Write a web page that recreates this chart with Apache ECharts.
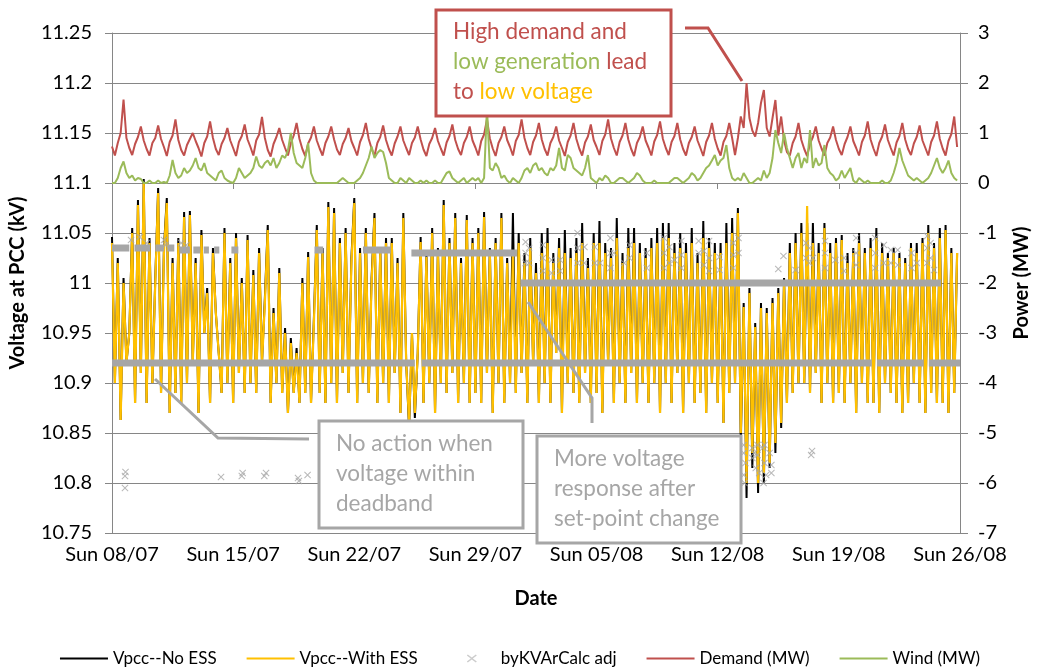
<!DOCTYPE html>
<html>
<head>
<meta charset="utf-8">
<title>Voltage at PCC</title>
<script src="https://cdn.jsdelivr.net/npm/echarts@6/dist/echarts.min.js"></script>
<style>
  html, body { margin: 0; padding: 0; background: #fff; }
  #main { width: 1040px; height: 670px; }
</style>
</head>
<body>
<div id="main"></div>
<script>
// x axis: days since Sun 08/07, 6 samples per day (every 4 h)
var pointsPerDay = 6;
var weekLabels = ['Sun 08/07', 'Sun 15/07', 'Sun 22/07', 'Sun 29/07', 'Sun 05/08', 'Sun 12/08', 'Sun 19/08', 'Sun 26/08'];

// Vpcc with ESS (kV), one row per day
var vWithEss = [
  11.040, 10.900, 11.020, 10.863, 11.000, 10.920,
  10.950, 11.050, 10.880, 11.078, 10.910, 11.100,
  10.880, 11.040, 10.900, 11.000, 11.090, 10.890,
  11.030, 11.080, 10.870, 11.020, 10.890, 11.040,
  10.880, 11.066, 10.900, 11.068, 10.920, 11.020,
  10.870, 11.048, 10.950, 10.990, 10.880, 11.030,
  10.970, 10.930, 10.890, 11.050, 10.900, 11.020,
  10.880, 11.045, 10.910, 11.000, 10.890, 11.043,
  10.900, 11.008, 10.890, 11.030, 10.920, 10.980,
  11.053, 10.880, 10.970, 10.900, 11.010, 10.890,
  10.950, 10.870, 10.940, 10.890, 10.930, 10.880,
  11.000, 10.890, 11.026, 10.880, 10.960, 11.053,
  10.890, 11.030, 10.880, 11.076, 10.900, 11.070,
  10.880, 11.040, 10.910, 11.050, 10.890, 11.020,
  11.080, 10.880, 11.030, 10.900, 11.050, 10.890,
  11.000, 11.065, 10.880, 11.030, 10.900, 11.040,
  10.880, 11.040, 10.910, 11.020, 10.870, 11.065,
  10.920, 10.860, 10.950, 10.870, 10.930, 11.041,
  10.880, 11.026, 10.900, 11.050, 10.870, 11.030,
  10.900, 11.078, 10.890, 11.040, 10.910, 11.065,
  10.880, 11.020, 10.900, 11.063, 10.880, 11.040,
  10.890, 11.050, 10.880, 11.066, 10.910, 11.030,
  10.870, 11.040, 10.900, 11.065, 10.880, 11.020,
  10.900, 11.030, 10.890, 11.040, 10.910, 11.020,
  10.880, 11.035, 10.920, 11.010, 10.880, 11.030,
  10.900, 11.040, 10.880, 11.020, 10.930, 11.035,
  10.870, 11.030, 10.900, 11.025, 10.890, 11.030,
  10.880, 11.040, 10.910, 11.015, 10.880, 11.040,
  10.890, 11.040, 10.870, 11.030, 10.920, 11.025,
  10.880, 11.045, 10.900, 11.020, 10.880, 11.035,
  10.910, 11.040, 10.880, 11.030, 10.900, 11.025,
  10.880, 11.035, 10.900, 11.040, 10.870, 11.045,
  10.900, 11.045, 10.880, 11.030, 10.910, 11.035,
  10.870, 11.030, 10.900, 11.040, 10.880, 11.020,
  10.890, 11.045, 10.870, 11.035, 10.900, 11.030,
  10.880, 11.030, 10.860, 11.040, 10.890, 11.050,
  10.900, 11.070, 10.850, 10.976, 10.800, 10.990,
  10.830, 10.956, 10.800, 10.975, 10.810, 10.970,
  10.820, 10.980, 10.840, 10.990, 10.860, 11.000,
  10.880, 11.030, 10.890, 11.040, 10.900, 11.050,
  10.900, 11.077, 10.890, 11.040, 10.910, 11.030,
  10.880, 11.055, 10.900, 11.030, 10.880, 11.040,
  10.890, 11.043, 10.880, 11.020, 10.900, 11.030,
  10.870, 11.040, 10.900, 11.030, 10.880, 11.035,
  10.880, 11.045, 10.870, 11.030, 10.900, 11.025,
  10.890, 11.030, 10.880, 11.025, 10.870, 11.020,
  10.880, 11.035, 10.900, 11.030, 10.880, 11.040,
  10.870, 11.050, 10.890, 11.035, 10.880, 11.045,
  10.880, 11.053, 10.870, 11.030, 10.890, 11.030
];

// Vpcc without ESS (kV)
var vNoEss = [
  11.046, 10.900, 11.025, 10.863, 11.005, 10.920,
  10.950, 11.055, 10.880, 11.083, 10.910, 11.104,
  10.880, 11.045, 10.900, 11.004, 11.095, 10.890,
  11.035, 11.085, 10.870, 11.025, 10.890, 11.045,
  10.880, 11.071, 10.900, 11.072, 10.920, 11.025,
  10.870, 11.053, 10.950, 10.995, 10.880, 11.035,
  10.970, 10.930, 10.890, 11.055, 10.900, 11.025,
  10.880, 11.050, 10.910, 11.005, 10.890, 11.048,
  10.900, 11.013, 10.890, 11.035, 10.920, 10.985,
  11.058, 10.880, 10.975, 10.900, 11.015, 10.890,
  10.955, 10.870, 10.945, 10.890, 10.935, 10.880,
  11.005, 10.890, 11.031, 10.880, 10.965, 11.058,
  10.890, 11.035, 10.880, 11.081, 10.900, 11.075,
  10.880, 11.045, 10.910, 11.055, 10.890, 11.025,
  11.085, 10.880, 11.035, 10.900, 11.055, 10.890,
  11.005, 11.070, 10.880, 11.035, 10.900, 11.045,
  10.880, 11.045, 10.910, 11.025, 10.870, 11.070,
  10.920, 10.855, 10.950, 10.865, 10.930, 11.046,
  10.880, 11.031, 10.900, 11.055, 10.870, 11.035,
  10.900, 11.083, 10.890, 11.045, 10.910, 11.070,
  10.880, 11.025, 10.900, 11.068, 10.880, 11.045,
  10.890, 11.055, 10.880, 11.071, 10.910, 11.035,
  10.870, 11.045, 10.900, 11.070, 10.880, 11.025,
  10.900, 11.070, 10.890, 11.050, 10.910, 11.030,
  10.880, 11.045, 10.920, 11.020, 10.880, 11.050,
  10.900, 11.055, 10.880, 11.030, 10.930, 11.045,
  10.870, 11.053, 10.900, 11.035, 10.890, 11.045,
  10.880, 11.060, 10.910, 11.025, 10.880, 11.050,
  10.890, 11.062, 10.870, 11.040, 10.920, 11.035,
  10.880, 11.065, 10.900, 11.030, 10.880, 11.055,
  10.910, 11.055, 10.880, 11.040, 10.900, 11.035,
  10.880, 11.045, 10.900, 11.055, 10.870, 11.060,
  10.900, 11.060, 10.880, 11.040, 10.910, 11.050,
  10.870, 11.040, 10.900, 11.055, 10.880, 11.030,
  10.890, 11.062, 10.870, 11.045, 10.900, 11.040,
  10.880, 11.040, 10.860, 11.060, 10.890, 11.065,
  10.900, 11.075, 10.840, 10.980, 10.785, 10.995,
  10.815, 10.960, 10.790, 10.980, 10.800, 10.975,
  10.815, 10.985, 10.830, 10.995, 10.855, 11.005,
  10.880, 11.040, 10.890, 11.050, 10.900, 11.060,
  10.900, 11.060, 10.890, 11.060, 10.910, 11.040,
  10.880, 11.060, 10.900, 11.040, 10.880, 11.045,
  10.890, 11.048, 10.880, 11.030, 10.900, 11.035,
  10.870, 11.050, 10.900, 11.035, 10.880, 11.045,
  10.880, 11.055, 10.870, 11.040, 10.900, 11.030,
  10.890, 11.035, 10.880, 11.030, 10.870, 11.025,
  10.880, 11.040, 10.900, 11.040, 10.880, 11.045,
  10.870, 11.058, 10.890, 11.040, 10.880, 11.055,
  10.880, 11.058, 10.870, 11.035, 10.890, 11.030
];

// Demand (MW)
var demand = [
  0.73, 0.55, 0.80, 1.00, 1.67, 0.90,
  0.70, 0.56, 0.78, 0.92, 1.13, 0.85,
  0.68, 0.55, 0.80, 0.90, 1.15, 0.88,
  0.72, 0.54, 0.82, 0.95, 1.27, 0.86,
  0.66, 0.55, 0.76, 0.88, 1.00, 0.84,
  0.70, 0.53, 0.80, 0.93, 1.23, 0.90,
  0.68, 0.56, 0.78, 0.90, 1.10, 0.85,
  0.70, 0.54, 0.82, 0.94, 1.17, 0.87,
  0.72, 0.55, 0.85, 0.97, 1.32, 0.90,
  0.66, 0.53, 0.78, 0.92, 1.10, 0.86,
  0.70, 0.55, 0.80, 0.95, 1.20, 0.88,
  0.68, 0.54, 0.79, 0.91, 1.13, 0.85,
  0.69, 0.55, 0.80, 0.93, 1.13, 0.87,
  0.67, 0.56, 0.78, 0.90, 1.10, 0.84,
  0.70, 0.55, 0.82, 0.96, 1.20, 0.88,
  0.69, 0.54, 0.80, 0.92, 1.15, 0.86,
  0.68, 0.55, 0.79, 0.93, 1.13, 0.85,
  0.70, 0.56, 0.80, 0.91, 1.13, 0.87,
  0.67, 0.54, 0.78, 0.90, 1.10, 0.84,
  0.69, 0.55, 0.81, 0.94, 1.17, 0.86,
  0.68, 0.56, 0.80, 0.92, 1.13, 0.85,
  0.71, 0.55, 0.84, 0.97, 1.27, 0.89,
  0.69, 0.54, 0.80, 0.92, 1.13, 0.86,
  0.72, 0.55, 0.84, 0.96, 1.27, 0.90,
  0.70, 0.56, 0.82, 0.95, 1.20, 0.87,
  0.68, 0.55, 0.80, 0.92, 1.13, 0.85,
  0.70, 0.54, 0.82, 0.95, 1.20, 0.88,
  0.69, 0.55, 0.81, 0.93, 1.17, 0.86,
  0.72, 0.56, 0.84, 0.97, 1.27, 0.89,
  0.70, 0.55, 0.82, 0.95, 1.20, 0.87,
  0.68, 0.54, 0.80, 0.92, 1.13, 0.85,
  0.71, 0.55, 0.83, 0.96, 1.23, 0.88,
  0.70, 0.56, 0.82, 0.94, 1.20, 0.87,
  0.68, 0.55, 0.80, 0.92, 1.13, 0.85,
  0.70, 0.54, 0.82, 0.95, 1.20, 0.88,
  0.69, 0.55, 0.82, 0.94, 1.20, 0.90,
  0.56, 0.90, 1.33, 1.10, 2.00, 1.30,
  1.05, 0.93, 1.20, 1.60, 1.86, 1.10,
  0.93, 1.30, 1.66, 0.95, 1.33, 0.85,
  0.62, 0.55, 0.80, 0.93, 1.20, 0.86,
  0.68, 0.54, 0.79, 0.92, 1.13, 0.85,
  0.69, 0.55, 0.80, 0.91, 1.13, 0.86,
  0.68, 0.56, 0.78, 0.92, 1.13, 0.84,
  0.70, 0.55, 0.82, 0.95, 1.23, 0.87,
  0.69, 0.54, 0.80, 0.93, 1.17, 0.86,
  0.70, 0.55, 0.81, 0.94, 1.20, 0.87,
  0.68, 0.56, 0.79, 0.92, 1.15, 0.85,
  0.70, 0.55, 0.82, 0.95, 1.23, 0.88,
  0.69, 0.55, 0.84, 0.98, 1.33, 0.72
];

// Wind (MW)
var wind = [
  0.00, 0.00, 0.10, 0.30, 0.43, 0.20,
  0.10, 0.15, 0.05, 0.10, 0.08, 0.00,
  0.00, 0.05, 0.00, 0.00, 0.05, 0.00,
  0.02, 0.00, 0.15, 0.46, 0.20, 0.10,
  0.15, 0.30, 0.20, 0.25, 0.35, 0.50,
  0.30, 0.25, 0.40, 0.20, 0.15, 0.10,
  0.05, 0.20, 0.25, 0.10, 0.05, 0.02,
  0.00, 0.10, 0.30, 0.20, 0.10, 0.15,
  0.20, 0.30, 0.53, 0.35, 0.30, 0.40,
  0.45, 0.35, 0.50, 0.30, 0.40, 0.55,
  0.50, 0.65, 1.00, 0.60, 0.40, 0.35,
  0.30, 0.50, 0.80, 0.20, 0.05, 0.00,
  0.00, 0.00, 0.00, 0.00, 0.00, 0.00,
  0.00, 0.05, 0.10, 0.05, 0.00, 0.00,
  0.00, 0.05, 0.10, 0.20, 0.35, 0.50,
  0.73, 0.50, 0.60, 0.66, 0.62, 0.40,
  0.10, 0.05, 0.00, 0.00, 0.10, 0.05,
  0.00, 0.10, 0.05, 0.00, 0.00, 0.05,
  0.00, 0.05, 0.00, 0.00, 0.05, 0.00,
  0.00, 0.10, 0.20, 0.23, 0.10, 0.05,
  0.00, 0.05, 0.10, 0.00, 0.05, 0.10,
  0.05, 0.10, 0.00, 0.10, 1.50, 0.30,
  0.25, 0.40, 0.30, 0.10, 0.15, 0.05,
  0.00, 0.10, 0.05, 0.00, 0.10, 0.25,
  0.30, 0.20, 0.35, 0.40, 0.25, 0.30,
  0.20, 0.15, 0.30, 0.25, 0.35, 0.70,
  0.30, 0.25, 0.56, 0.50, 0.30, 0.25,
  0.20, 0.15, 0.30, 0.56, 0.10, 0.05,
  0.00, 0.10, 0.05, 0.15, 0.10, 0.00,
  0.00, 0.05, 0.10, 0.10, 0.05, 0.00,
  0.05, 0.10, 0.20, 0.15, 0.05, 0.00,
  0.00, 0.00, 0.05, 0.00, 0.00, 0.00,
  0.00, 0.00, 0.05, 0.10, 0.10, 0.05,
  0.00, 0.05, 0.10, 0.20, 0.15, 0.05,
  0.10, 0.20, 0.30, 0.35, 0.45, 0.56,
  0.35, 0.45, 0.50, 0.76, 0.30, 0.10,
  0.05, 0.10, 0.05, 0.20, 0.10, 0.00,
  0.00, 0.05, 0.10, 0.05, 0.25, 0.10,
  0.20, 0.50, 1.06, 0.80, 0.60, 1.00,
  0.70, 0.50, 0.30, 0.50, 0.60, 0.30,
  0.50, 0.40, 1.06, 0.30, 0.50, 0.35,
  0.40, 0.76, 0.30, 0.20, 0.15, 0.05,
  0.10, 0.25, 0.10, 0.20, 0.30, 0.05,
  0.00, 0.10, 0.05, 0.00, 0.05, 0.00,
  0.00, 0.00, 0.00, 0.05, 0.00, 0.00,
  0.05, 0.20, 0.40, 0.70, 0.45, 0.30,
  0.15, 0.10, 0.05, 0.10, 0.05, 0.00,
  0.05, 0.10, 0.20, 0.35, 0.50, 0.30,
  0.20, 0.30, 0.45, 0.20, 0.10, 0.05
];

// byKVArCalc adj: runs of near-constant values [fromDay, toDay, kV]
var kvarRuns = [
  [0.0, 17.5, 10.92], [17.9, 43.9, 10.92], [44.2, 46.9, 10.92], [47.2, 49.0, 10.92],
  [0.0, 1.0, 11.035], [1.3, 2.2, 11.035], [2.5, 3.0, 11.035], [3.2, 3.6, 11.035],
  [3.9, 4.5, 11.033], [4.7, 5.1, 11.033], [5.3, 5.6, 11.033], [5.9, 6.2, 11.033],
  [6.9, 7.3, 11.033], [11.7, 12.2, 11.033], [14.5, 16.1, 11.033], [17.3, 23.4, 11.03],
  [23.6, 47.9, 11.0]
];

// byKVArCalc adj: individual points [day, kV]
var kvarPoints = [
  [1.1, 11.043], [1.6, 11.046], [2.0, 11.04], [3.0, 11.043], [3.1, 11.038], [4.0, 11.04], [4.3, 11.038],
  [23.9, 11.041], [23.9, 11.03], [23.9, 11.02], [24.1, 11.035], [24.1, 11.02],
  [24.9, 11.038], [24.9, 11.025], [24.9, 11.012], [25.4, 11.023], [25.4, 11.01], [25.9, 11.023], [25.9, 11.012],
  [26.9, 11.05], [26.9, 11.035], [26.9, 11.02], [27.3, 11.036], [27.3, 11.02], [27.9, 11.036], [27.9, 11.02], [28.2, 11.02],
  [28.8, 11.045], [28.8, 11.03], [28.8, 11.015], [29.0, 11.03], [29.6, 11.02], [29.9, 11.038], [29.9, 11.025],
  [30.9, 11.03], [30.9, 11.015], [31.9, 11.045], [31.9, 11.03], [31.9, 11.015],
  [32.2, 11.036], [32.2, 11.02], [32.5, 11.023], [32.9, 11.042], [32.9, 11.028], [32.9, 11.015],
  [33.9, 11.042], [33.9, 11.03], [34.2, 11.032], [34.2, 11.018], [34.5, 11.042], [34.5, 11.025], [34.5, 11.012],
  [35.1, 11.026], [35.1, 11.013], [35.9, 11.04], [35.9, 11.028], [35.9, 11.015], [36.2, 11.045], [36.2, 11.03],
  [38.5, 11.014], [38.8, 11.027], [39.5, 11.013],
  [40.1, 11.04], [40.1, 11.025], [40.3, 11.035], [40.3, 11.02], [40.5, 11.025],
  [41.2, 11.042], [41.2, 11.03], [41.2, 11.015], [41.8, 11.023], [42.3, 11.025], [42.3, 11.012],
  [43.0, 11.045], [43.0, 11.03], [43.0, 11.018], [44.1, 11.045], [44.1, 11.03], [44.1, 11.015],
  [44.6, 11.038], [44.6, 11.02], [45.0, 11.033], [45.0, 11.02], [45.4, 11.033], [45.4, 11.018],
  [46.2, 11.03], [46.2, 11.015], [46.5, 11.02], [47.1, 11.047], [47.1, 11.035], [47.1, 11.02],
  [47.3, 11.04], [47.3, 11.025], [47.5, 11.013],
  [36.5, 10.838], [36.5, 10.83], [36.6, 10.82], [36.5, 10.808], [36.55, 10.8],
  [37.0, 10.835], [37.1, 10.83], [37.0, 10.825], [37.3, 10.838], [37.3, 10.828], [37.2, 10.815], [37.4, 10.81],
  [37.6, 10.835], [37.7, 10.838], [37.7, 10.82], [37.8, 10.808], [37.65, 10.8],
  [38.0, 10.83], [38.1, 10.818], [38.1, 10.81], [40.4, 10.828], [40.45, 10.832],
  [0.75, 10.807], [0.78, 10.811], [0.75, 10.795], [6.3, 10.806], [7.5, 10.807], [7.55, 10.81],
  [8.8, 10.807], [8.9, 10.81], [10.75, 10.805], [10.8, 10.802], [11.3, 10.808]
];

var cross = 'path://M1,0L5,4L9,0L10,1L6,5L10,9L9,10L5,6L1,10L0,9L4,5L0,1Z';
// legend icons keep a 48x14 box so they are not stretched
var crossIcon = 'path://M0,0h0.01v0.01zM48,14h-0.01v-0.01zM20,3L24,6L28,3L29,4L25,7L29,10L28,11L24,8L20,11L19,10L23,7L19,4Z';
var lineIcon = 'path://M0,0h0.01v0.01zM48,14h-0.01v-0.01zM0,6h48v2h-48z';

function toPoints(arr) {
  return arr.map(function (v, i) { return [i / pointsPerDay, v]; });
}

var myChart = echarts.init(document.getElementById('main'));
var font = 'Lato, "Open Sans", sans-serif';
var gridColor = '#868686';

var series = [
  {
    name: 'Vpcc--No ESS', type: 'line', yAxisIndex: 0, symbol: 'none',
    data: toPoints(vNoEss), lineStyle: { color: '#000', width: 2 }, itemStyle: { color: '#000' }, z: 2
  },
  {
    name: 'Vpcc--With ESS', type: 'line', yAxisIndex: 0, symbol: 'none',
    data: toPoints(vWithEss), lineStyle: { color: '#ffc000', width: 2.2 }, itemStyle: { color: '#ffc000' }, z: 3
  },
  {
    name: 'byKVArCalc adj', type: 'scatter', yAxisIndex: 0, symbol: cross, symbolSize: 7,
    data: kvarPoints, itemStyle: { color: '#a6a6a6' }, z: 4
  }
];
kvarRuns.forEach(function (r) {
  series.push({
    name: 'byKVArCalc adj', type: 'line', yAxisIndex: 0, symbol: 'none',
    data: [[r[0], r[2]], [r[1], r[2]]],
    lineStyle: { color: '#a6a6a6', width: 7 }, itemStyle: { color: '#a6a6a6' }, z: 4
  });
});
series.push(
  {
    name: 'Demand (MW)', type: 'line', yAxisIndex: 1, symbol: 'none',
    data: toPoints(demand), lineStyle: { color: '#c0504d', width: 2 }, itemStyle: { color: '#c0504d' }, z: 5
  },
  {
    name: 'Wind (MW)', type: 'line', yAxisIndex: 1, symbol: 'none',
    data: toPoints(wind), lineStyle: { color: '#9bbb59', width: 2 }, itemStyle: { color: '#9bbb59' }, z: 6
  }
);

var option = {
  animation: false,
  backgroundColor: '#fff',
  textStyle: { fontFamily: font },
  grid: { left: 109, right: 74, top: 33, bottom: 137 },
  legend: {
    top: 645,
    left: 'center',
    itemWidth: 48,
    itemHeight: 14,
    itemGap: 30,
    textStyle: { fontSize: 17, color: '#000', fontFamily: font },
    data: [
      { name: 'Vpcc--No ESS', icon: lineIcon },
      { name: 'Vpcc--With ESS', icon: lineIcon },
      { name: 'byKVArCalc adj', icon: crossIcon, itemStyle: { color: '#bfbfbf' } },
      { name: 'Demand (MW)', icon: lineIcon },
      { name: 'Wind (MW)', icon: lineIcon }
    ]
  },
  xAxis: {
    type: 'value',
    min: 0, max: 49, interval: 7,
    name: 'Date', nameLocation: 'middle', nameGap: 56,
    nameTextStyle: { fontSize: 20, fontWeight: 'bold', color: '#000' },
    axisLine: { show: true, lineStyle: { color: gridColor } },
    axisTick: { show: true, length: 6, lineStyle: { color: gridColor } },
    splitLine: { show: false },
    axisLabel: {
      fontSize: 20, color: '#000', margin: 12,
      formatter: function (v) { return weekLabels[Math.round(v / 7)]; }
    }
  },
  yAxis: [
    {
      type: 'value', min: 10.75, max: 11.25, interval: 0.05,
      name: 'Voltage at PCC (kV)', nameLocation: 'middle', nameGap: 84, nameRotate: 90,
      nameTextStyle: { fontSize: 20, fontWeight: 'bold', color: '#000' },
      axisLine: { show: true, lineStyle: { color: gridColor } },
      axisTick: { show: true, length: 7, lineStyle: { color: gridColor } },
      splitLine: { show: true, lineStyle: { color: gridColor, width: 1 } },
      axisLabel: { fontSize: 20, color: '#000', margin: 20 }
    },
    {
      type: 'value', min: -7, max: 3, interval: 1, position: 'right',
      name: 'Power (MW)', nameLocation: 'middle', nameGap: 52, nameRotate: 90,
      nameTextStyle: { fontSize: 20, fontWeight: 'bold', color: '#000' },
      axisLine: { show: true, lineStyle: { color: gridColor } },
      axisTick: { show: true, length: 8, lineStyle: { color: gridColor } },
      splitLine: { show: false },
      axisLabel: { fontSize: 20, color: '#000', margin: 18 }
    }
  ],
  series: series,
  graphic: [
    // callout: high demand
    { type: 'polyline', z: 100, shape: { points: [[685, 28], [708, 28], [742, 81]] },
      style: { stroke: '#c0504d', lineWidth: 3, fill: null } },
    { type: 'rect', z: 100, shape: { x: 436, y: 10, width: 235, height: 106 },
      style: { fill: '#fff', stroke: '#c0504d', lineWidth: 3 } },
    { type: 'text', z: 101, left: 453, top: 17,
      style: {
        text: '{r|High demand and}\n{g|low generation} {r|lead}\n{r|to} {o|low voltage}',
        fontFamily: font, fontSize: 22.5, lineHeight: 30,
        rich: {
          r: { fill: '#c0504d', fontSize: 22.5, fontFamily: font, lineHeight: 30 },
          g: { fill: '#9bbb59', fontSize: 22.5, fontFamily: font, lineHeight: 30 },
          o: { fill: '#ffc000', fontSize: 22.5, fontFamily: font, lineHeight: 30 }
        }
      } },
    // callout: deadband
    { type: 'polyline', z: 100, shape: { points: [[155, 379], [218, 438], [309, 439]] },
      style: { stroke: '#a6a6a6', lineWidth: 3, fill: null } },
    { type: 'rect', z: 100, shape: { x: 319, y: 421, width: 204, height: 107 },
      style: { fill: '#fff', stroke: '#a6a6a6', lineWidth: 3 } },
    { type: 'text', z: 101, left: 336, top: 429,
      style: { text: 'No action when\nvoltage within\ndeadband', fill: '#a6a6a6',
        fontFamily: font, fontSize: 22.5, lineHeight: 30 } },
    // callout: set-point change
    { type: 'polyline', z: 100, shape: { points: [[528, 302], [592, 398], [592, 423]] },
      style: { stroke: '#a6a6a6', lineWidth: 3, fill: null } },
    { type: 'rect', z: 100, shape: { x: 537, y: 436, width: 204, height: 107 },
      style: { fill: '#fff', stroke: '#a6a6a6', lineWidth: 3 } },
    { type: 'text', z: 101, left: 554, top: 444,
      style: { text: 'More voltage\nresponse after\nset-point change', fill: '#a6a6a6',
        fontFamily: font, fontSize: 22.5, lineHeight: 30 } }
  ]
};

myChart.setOption(option);
window.onresize = function () {
  myChart.resize();
};
</script>
</body>
</html>
